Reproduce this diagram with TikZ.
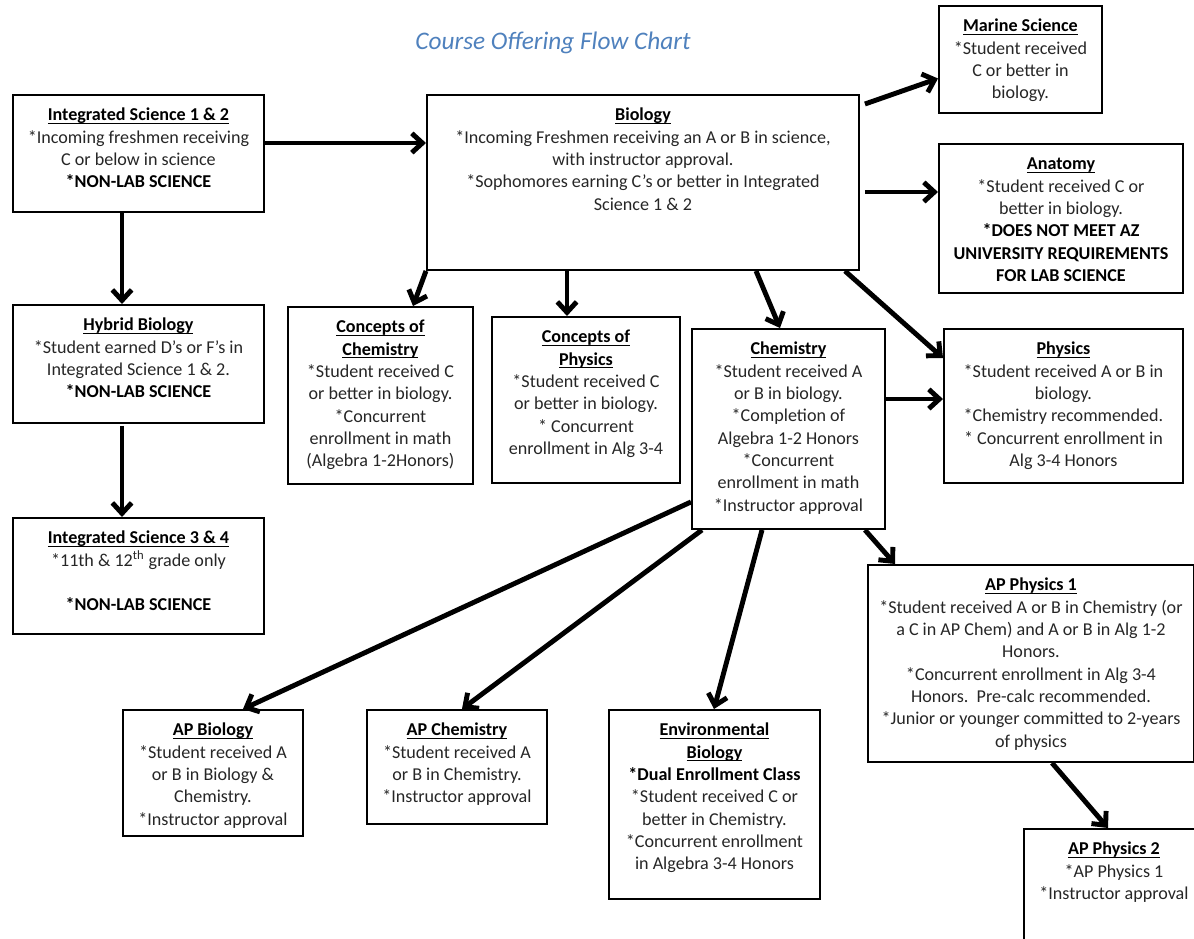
\documentclass[tikz,border=0pt]{standalone}
\usepackage{fontspec}
\setmainfont{Carlito}
\usetikzlibrary{positioning}
\usetikzlibrary{calc}
\usetikzlibrary{arrows.meta}
\definecolor{titleblue}{RGB}{79,129,189}
\newlength\pxu
\setlength\pxu{0.02cm}
\newcommand{\cbox}[3]{\parbox[c][#2\pxu][t]{#1\pxu}{\fontsize{10.3pt}{22.3\pxu}\selectfont\centering\rule{0pt}{26\pxu}#3}}
\newcommand{\ttl}[1]{\textcolor{black}{\underline{\smash{\textbf{#1}}}}}
\newcommand{\bld}[1]{\textcolor{black}{\textbf{#1}}}

\begin{document}
\begin{tikzpicture}[x=0.02cm, y=-0.02cm,
    course/.style={draw, line width=1.1pt, inner sep=0pt, anchor=north west, text=black!85},
    flow/.style={line width=2.8pt, -{Straight Barb[length=6pt,width=11pt]}}]
        \useasboundingbox (0,0) rectangle (1194,938);

        \node[text=titleblue, font=\fontsize{14.4pt}{17pt}\selectfont\itshape] (title) at (553,43) {Course Offering Flow Chart};

        \node[course] (intsci12) at (12,94) {\cbox{251}{117}{\ttl{Integrated Science 1 \& 2}\\{}*Incoming freshmen receiving\\{}C or below in science\\{}\bld{*NON-LAB SCIENCE}}};
        \node[course] (bio) at (426,94) {\cbox{432}{175}{\ttl{Biology}\\{}*Incoming Freshmen receiving an A or B in science,\\{}with instructor approval.\\{}*Sophomores earning C's or better in Integrated\\{}Science 1 \& 2}};
        \node[course] (marine) at (938,5) {\cbox{163}{107}{\ttl{Marine Science}\\{}*Student received\\{}C or better in\\{}biology.}};
        \node[course] (anatomy) at (938,143) {\cbox{244}{149}{\ttl{Anatomy}\\{}*Student received C or\\{}better in biology.\\{}\bld{*DOES NOT MEET AZ}\\{}\bld{UNIVERSITY REQUIREMENTS}\\{}\bld{FOR LAB SCIENCE}}};
        \node[course] (hybrid) at (12,304) {\cbox{251}{118}{\ttl{Hybrid Biology}\\{}*Student earned D's or F's in\\{}Integrated Science 1 \& 2.\\{}\bld{*NON-LAB SCIENCE}}};
        \node[course] (intsci34) at (12,517) {\cbox{251}{116}{\ttl{Integrated Science 3 \& 4}\\{}*11th \& 12\textsuperscript{th} grade only\\[22.3\pxu]\bld{*NON-LAB SCIENCE}}};
        \node[course] (conchem) at (287,306) {\cbox{185}{177}{\ttl{Concepts of}\\{}\ttl{Chemistry}\\{}*Student received C\\{}or better in biology.\\{}*Concurrent\\{}enrollment in math\\{}(Algebra 1-2Honors)}};
        \node[course] (conphys) at (491,316) {\cbox{188}{166}{\ttl{Concepts of}\\{}\ttl{Physics}\\{}*Student received C\\{}or better in biology.\\{}* Concurrent\\{}enrollment in Alg 3-4}};
        \node[course] (chem) at (691,328) {\cbox{193}{200}{\ttl{Chemistry}\\{}*Student received A\\{}or B in biology.\\{}*Completion of\\{}Algebra 1-2 Honors\\{}*Concurrent\\{}enrollment in math\\{}*Instructor approval}};
        \node[course] (phys) at (943,328) {\cbox{239}{154}{\ttl{Physics}\\{}*Student received A or B in\\{}biology.\\{}*Chemistry recommended.\\{}* Concurrent enrollment in\\{}Alg 3-4 Honors}};
        \node[course] (apphys1) at (867,564) {\cbox{326}{197}{\ttl{AP Physics 1}\\{}*Student received A or B in Chemistry (or\\{}a C in AP Chem) and A or B in Alg 1-2\\{}Honors.\\{}*Concurrent enrollment in Alg 3-4\\{}Honors.\ \ Pre-calc recommended.\\{}*Junior or younger committed to 2-years\\{}of physics}};
        \node[course] (apbio) at (122,709) {\cbox{180}{126}{\ttl{AP Biology}\\{}*Student received A\\{}or B in Biology \&\\{}Chemistry.\\{}*Instructor approval}};
        \node[course] (apchem) at (366,709) {\cbox{180}{114}{\ttl{AP Chemistry}\\{}*Student received A\\{}or B in Chemistry.\\{}*Instructor approval}};
        \node[course] (envbio) at (608,709) {\cbox{211}{189}{\ttl{Environmental}\\{}\ttl{Biology}\\{}\bld{*Dual Enrollment Class}\\{}*Student received C or\\{}better in Chemistry.\\{}*Concurrent enrollment\\{}in Algebra 3-4 Honors}};
        \node[course] (apphys2) at (1023,828) {\cbox{180}{130}{\ttl{AP Physics 2}\\{}*AP Physics 1\\{}*Instructor approval}};

        % left column
        \draw[flow] ($(intsci12.north east)+(0,49)$) -- ($(bio.north west)+(0,49)$);
        \draw[flow] ($(intsci12.south west)+(110,0)$) -- ($(hybrid.north west)+(110,0)$);
        \draw[flow] ($(hybrid.south west)+(110,2)$) -- ($(intsci34.north west)+(110,0)$);

        % from biology
        \draw[flow] ($(bio.north east)+(5,10)$) -- ($(marine.west)+(0,19)$);
        \draw[flow] ($(bio.north east)+(5,98)$) -- ($(anatomy.north west)+(0,49)$);
        \draw[flow] (bio.south west) -- ($(conchem.north west)+(126,0)$);
        \draw[flow] ($(bio.south west)+(141,0)$) -- ($(conphys.north west)+(76,0)$);
        \draw[flow] ($(bio.south west)+(330,0)$) -- ($(chem.north west)+(89,0)$);
        \draw[flow] ($(bio.south east)+(-15,0)$) -- ($(phys.north west)+(0,30)$);

        % from chemistry
        \draw[flow] ($(chem.north east)+(0,71)$) -- ($(phys.north west)+(0,71)$);
        \draw[flow] ($(chem.south east)+(-21,0)$) -- ($(apphys1.north west)+(28,0)$);
        \draw[flow] ($(chem.south west)+(0,-28)$) -- ($(apbio.north west)+(121,0)$);
        \draw[flow] ($(chem.south west)+(11,0)$) -- ($(apchem.north west)+(96,0)$);
        \draw[flow] ($(chem.south west)+(71,0)$) -- ($(envbio.north west)+(106,0)$);

        \draw[flow] ($(apphys1.south west)+(185,0)$) -- ($(apphys2.north west)+(85,0)$);
    \end{tikzpicture}
\end{document}
